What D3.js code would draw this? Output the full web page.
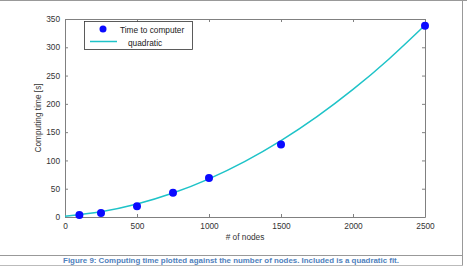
<!DOCTYPE html>
<html>
<head>
<meta charset="utf-8">
<script src="https://cdn.jsdelivr.net/npm/d3@7"></script>
<style>
  body { margin: 0; background: #fff; }
  svg { display: block; }
  .tick text { font-family: "Liberation Sans", Arial, sans-serif; font-size: 8.3px; fill: #333; }
</style>
</head>
<body>
<svg id="chart" width="467" height="272"></svg>
<script>
// measured points
const nodes = [100, 250, 500, 750, 1000, 1500, 2500];
const times = [3.5, 7, 19, 43, 69, 128, 338];

// quadratic fit curve
const fitNodes = [0, 250, 500, 750, 1000, 1250, 1500, 1750, 2000, 2250, 2500];
const fitTimes = [1.5, 9.4, 23, 42.4, 67.5, 98.4, 135, 177.4, 225.5, 279.4, 339];

const xTicks = [0, 500, 1000, 1500, 2000, 2500];
const yTicks = [0, 50, 100, 150, 200, 250, 300, 350];

const legendLabels = ["Time to computer", "quadratic"];
const caption = "Figure 9: Computing time plotted against the number of nodes. Included is a quadratic fit.";

let svg = d3.select("#chart");

// page frame of the document screenshot
svg.append("line").attr("x1", 0).attr("x2", 467).attr("y1", 0.5).attr("y2", 0.5)
    .attr("stroke", "#999");
svg.append("line").attr("x1", 462.5).attr("x2", 462.5).attr("y1", 0).attr("y2", 265)
    .attr("stroke", "#999");
svg.append("line").attr("x1", 0).attr("x2", 463).attr("y1", 255.5).attr("y2", 255.5)
    .attr("stroke", "#999");
svg.append("line").attr("x1", 0).attr("x2", 463).attr("y1", 265.5).attr("y2", 265.5)
    .attr("stroke", "#bbb");

const pLeft = 65, pRight = 425, pTop = 19, pBottom = 217;

let x = d3.scaleLinear().domain([0, 2500]).range([pLeft, pRight]);
let y = d3.scaleLinear().domain([0, 350]).range([pBottom, pTop]);

const axisColor = "#808080";

// bottom / left axes with labels, ticks pointing inward
let gx = svg.append("g").attr("transform", `translate(0,${pBottom})`)
    .call(d3.axisBottom(x).tickValues(xTicks).tickFormat(d3.format("d"))
        .tickSizeInner(-3).tickSizeOuter(0).tickPadding(6));
let gy = svg.append("g").attr("transform", `translate(${pLeft},0)`)
    .call(d3.axisLeft(y).tickValues(yTicks).tickFormat(d3.format("d"))
        .tickSizeInner(-3).tickSizeOuter(0).tickPadding(5));
// top / right mirrored ticks
let gt = svg.append("g").attr("transform", `translate(0,${pTop})`)
    .call(d3.axisTop(x).tickValues(xTicks).tickSizeInner(-3).tickSizeOuter(0).tickFormat(""));
let gr = svg.append("g").attr("transform", `translate(${pRight},0)`)
    .call(d3.axisRight(y).tickValues(yTicks).tickSizeInner(-3).tickSizeOuter(0).tickFormat(""));

[gx, gy, gt, gr].forEach(g => {
    g.select(".domain").attr("stroke", axisColor);
    g.selectAll(".tick line").attr("stroke", axisColor);
});

// axis titles
svg.append("text")
    .attr("x", (pLeft + pRight) / 2).attr("y", 240)
    .attr("text-anchor", "middle")
    .style("font-family", "Liberation Sans, Arial, sans-serif")
    .style("font-size", "8.3px").attr("fill", "#333")
    .text("# of nodes");
svg.append("text")
    .attr("transform", `translate(41,${(pTop + pBottom) / 2}) rotate(-90)`)
    .attr("text-anchor", "middle")
    .style("font-family", "Liberation Sans, Arial, sans-serif")
    .style("font-size", "8.3px").attr("fill", "#333")
    .text("Computing time [s]");

// fit line
let line = d3.line().x((d, i) => x(fitNodes[i])).y(d => y(d)).curve(d3.curveNatural);
svg.append("path")
    .datum(fitTimes)
    .attr("d", line)
    .attr("fill", "none")
    .attr("stroke", "#1ec3c8")
    .attr("stroke-width", 1.5);

// data points
svg.selectAll(".pt").data(times).join("circle")
    .attr("class", "pt")
    .attr("cx", (d, i) => x(nodes[i]))
    .attr("cy", d => y(d))
    .attr("r", 4)
    .attr("fill", "#0a0aff");

// legend
let lg = svg.append("g");
lg.append("rect").attr("x", 84.5).attr("y", 21.5).attr("width", 108).attr("height", 28)
    .attr("fill", "#fff").attr("stroke", "#333").attr("stroke-width", 0.8);
lg.append("circle").attr("cx", 103).attr("cy", 29).attr("r", 3.5).attr("fill", "#0a0aff");
lg.append("line").attr("x1", 90).attr("x2", 117).attr("y1", 41.5).attr("y2", 41.5)
    .attr("stroke", "#1ec3c8").attr("stroke-width", 1.5);
lg.selectAll("text").data(legendLabels).join("text")
    .attr("x", (d, i) => i == 0 ? 120 : 128)
    .attr("y", (d, i) => i == 0 ? 33 : 45.5)
    .style("font-family", "Liberation Sans, Arial, sans-serif")
    .style("font-size", "8.3px").attr("fill", "#222")
    .text(d => d);

// figure caption
svg.append("text")
    .attr("x", 231).attr("y", 263)
    .attr("text-anchor", "middle")
    .style("font-family", "Liberation Sans, sans-serif")
    .style("font-weight", "bold")
    .style("font-size", "7.9px")
    .attr("fill", "#4f81bd")
    .text(caption);
</script>
</body>
</html>
